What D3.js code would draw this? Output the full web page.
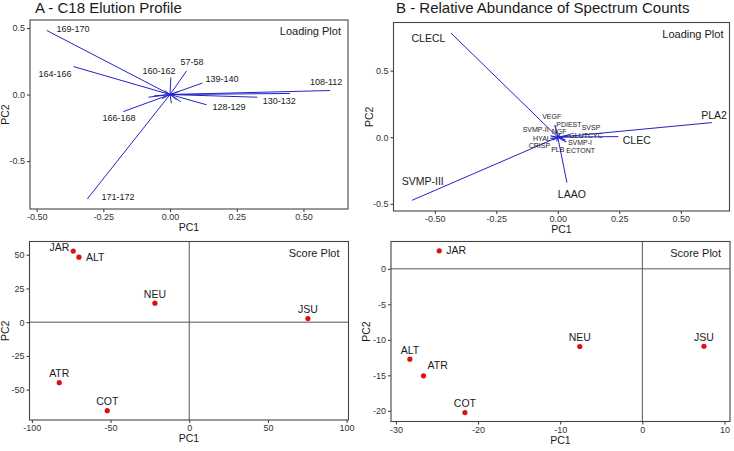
<!DOCTYPE html>
<html>
<head>
<meta charset="utf-8">
<script src="https://cdn.jsdelivr.net/npm/d3@7"></script>
<style>
  html, body { margin: 0; padding: 0; background: #fff; }
  svg { display: block; font-family: Arial, "Liberation Sans", Helvetica, sans-serif; }
</style>
</head>
<body>
<svg id="chart" width="734" height="451"></svg>
<script>
// ---------------- DATA ----------------
// Panel A – loading plot (C18 elution fractions)
const aLoadNames  = ["169-170", "164-166", "160-162", "57-58", "139-140", "108-112", "130-132", "128-129", "166-168", "171-172"];
const aLoadPC1    = [-0.462, -0.362, 0.003, 0.062, 0.121, 0.600, 0.327, 0.137, -0.175, -0.310];
const aLoadPC2    = [0.481, 0.210, 0.128, 0.178, 0.086, 0.030, -0.020, -0.077, -0.128, -0.784];
const aLabelPC1   = [-0.364, -0.431, -0.041, 0.082, 0.195, 0.585, 0.409, 0.221, -0.191, -0.195];
const aLabelPC2   = [0.494, 0.156, 0.178, 0.246, 0.118, 0.095, -0.047, -0.092, -0.175, -0.769];
// unlabeled minor loadings in panel A
const aMinorPC1   = [-0.081, -0.060, 0.040, 0.005, 0.025, -0.020, 0.030, 0.450, -0.030];
const aMinorPC2   = [-0.020, -0.010, -0.053, -0.065, -0.040, 0.030, 0.020, 0.008, -0.030];

// Panel A – score plot
const aScoreNames = ["JAR", "ALT", "NEU", "JSU", "ATR", "COT"];
const aScorePC1   = [-73.7, -70.1, -21.8, 75.4, -82.6, -52.1];
const aScorePC2   = [52.7, 48.2, 14.1, 2.7, -44.8, -65.6];
const aScoreLabel = ["upleft", "right", "above", "above", "above", "above"];

// Panel B – loading plot (protein families)
const bLoadNames  = ["CLECL", "PLA2", "CLEC", "SVMP-III", "LAAO"];
const bLoadPC1    = [-0.434, 0.626, 0.246, -0.593, 0.037];
const bLoadPC2    = [0.782, 0.110, 0.005, -0.474, -0.341];
const bLabelPC1   = [-0.526, 0.635, 0.321, -0.549, 0.057];
const bLabelPC2   = [0.744, 0.168, -0.020, -0.329, -0.426];
// minor (small-label) loadings in panel B
const bMinorNames = ["VEGF", "PDIEST", "SVSP", "SVMP-II", "NGF", "GLUTCYC", "HYAL", "CRISP", "PLB", "SVMP-I", "ECTONT"];
const bMinorPC1   = [-0.012, 0.010, 0.050, -0.030, 0.000, 0.020, -0.030, -0.020, -0.005, 0.030, 0.035];
const bMinorPC2   = [0.092, 0.030, 0.020, 0.010, 0.020, 0.000, -0.010, -0.020, -0.030, -0.020, -0.035];
const bMinorLabX  = [-0.025, 0.045, 0.135, -0.090, 0.005, 0.115, -0.065, -0.075, 0.000, 0.090, 0.093];
const bMinorLabY  = [0.155, 0.095, 0.075, 0.055, 0.040, 0.015, -0.010, -0.065, -0.090, -0.040, -0.100];

// Panel B – score plot
const bScoreNames = ["JAR", "ALT", "ATR", "COT", "NEU", "JSU"];
const bScorePC1   = [-24.73, -28.3, -26.64, -21.6, -7.62, 7.5];
const bScorePC2   = [2.54, -12.72, -15.07, -20.24, -10.94, -10.9];
const bScoreLabel = ["right", "above", "upright", "above", "above", "above"];

// Tick values
const aLoadXTicks  = [-0.5, -0.25, 0, 0.25, 0.5];
const aLoadYTicks  = [-0.5, 0, 0.5];
const aScoreXTicks = [-100, -50, 0, 50, 100];
const aScoreYTicks = [-50, -25, 0, 25, 50];
const bLoadXTicks  = [-0.5, -0.25, 0, 0.25, 0.5];
const bLoadYTicks  = [-0.5, 0, 0.5];
const bScoreXTicks = [-30, -20, -10, 0, 10];
const bScoreYTicks = [-20, -15, -10, -5, 0];

const titles = ["A - C18 Elution Profile", "B - Relative Abundance of Spectrum Counts"];

// ---------------- DRAWING ----------------
const svg = d3.select("#chart");
const ARROW = "#2323c8";
const POINT = "#e01010";
const TXT = "#1a1a1a";

function panel(box, xDom, yDom, xTicks, yTicks, xFmt, yFmt, cornerText, cornerPad) {
  const x = d3.scaleLinear().domain(xDom).range([box.x0, box.x1]);
  const y = d3.scaleLinear().domain(yDom).range([box.y1, box.y0]);
  const g = svg.append("g");
  const xa = g.append("g").attr("transform", `translate(0,${box.y1})`)
    .call(d3.axisBottom(x).tickValues(xTicks).tickFormat(xFmt).tickSize(3).tickPadding(2));
  const ya = g.append("g").attr("transform", `translate(${box.x0},0)`)
    .call(d3.axisLeft(y).tickValues(yTicks).tickFormat(yFmt).tickSize(3).tickPadding(2));
  [xa, ya].forEach(a => {
    a.select(".domain").remove();
    a.selectAll("line").attr("stroke", "#333");
    a.selectAll("text").attr("font-size", 9).attr("fill", "#333")
      .attr("font-family", "Arial, 'Liberation Sans', sans-serif");
  });
  g.append("text").attr("x", (box.x0 + box.x1) / 2).attr("y", box.y1 + 22)
    .attr("text-anchor", "middle").attr("font-size", 10.5).attr("fill", TXT).text("PC1");
  g.append("text").attr("transform", `translate(${box.x0 - 21},${(box.y0 + box.y1) / 2}) rotate(-90)`)
    .attr("text-anchor", "middle").attr("font-size", 10.5).attr("fill", TXT).text("PC2");
  g.append("text").attr("x", box.x1 - cornerPad).attr("y", box.y0 + 15)
    .attr("text-anchor", "end").attr("font-size", 11).attr("fill", TXT).text(cornerText);
  const plot = g.append("g");
  const frame = () => g.append("rect").attr("x", box.x0).attr("y", box.y0)
    .attr("width", box.x1 - box.x0).attr("height", box.y1 - box.y0)
    .attr("fill", "none").attr("stroke", "#444").attr("stroke-width", 1.1);
  return { x, y, plot, frame };
}

const f2 = d => d.toFixed(2);
const f1 = d => d.toFixed(1);
const f0 = d => String(d);

// ---- Panel A loading
{
  const p = panel({ x0: 30, x1: 348, y0: 20, y1: 209 }, [-0.525, 0.667], [-0.86, 0.56],
    aLoadXTicks, aLoadYTicks, f2, f1, "Loading Plot", 7);
  const minor = aMinorPC1.map((v, i) => ({ pc1: v, pc2: aMinorPC2[i] }));
  p.plot.selectAll(".mn").data(minor).join("line")
    .attr("x1", p.x(0)).attr("y1", p.y(0)).attr("x2", d => p.x(d.pc1)).attr("y2", d => p.y(d.pc2))
    .attr("stroke", ARROW).attr("stroke-width", 1);
  const main = aLoadNames.map((n, i) => ({ n, pc1: aLoadPC1[i], pc2: aLoadPC2[i], lx: aLabelPC1[i], ly: aLabelPC2[i] }));
  p.plot.selectAll(".mj").data(main).join("line")
    .attr("x1", p.x(0)).attr("y1", p.y(0)).attr("x2", d => p.x(d.pc1)).attr("y2", d => p.y(d.pc2))
    .attr("stroke", ARROW).attr("stroke-width", 1);
  p.plot.selectAll(".lb").data(main).join("text")
    .attr("x", d => p.x(d.lx)).attr("y", d => p.y(d.ly)).attr("dy", "0.35em")
    .attr("text-anchor", "middle").attr("font-size", 9).attr("fill", TXT).text(d => d.n);
  p.frame();
}

// ---- Score panel helper
function scorePanel(box, xDom, yDom, xT, yT, names, pc1, pc2, pos) {
  const p = panel(box, xDom, yDom, xT, yT, f0, f0, "Score Plot", 9);
  p.plot.append("line").attr("x1", box.x0).attr("x2", box.x1).attr("y1", p.y(0)).attr("y2", p.y(0))
    .attr("stroke", "#555").attr("stroke-width", 1);
  p.plot.append("line").attr("x1", p.x(0)).attr("x2", p.x(0)).attr("y1", box.y0).attr("y2", box.y1)
    .attr("stroke", "#555").attr("stroke-width", 1);
  const data = names.map((n, i) => ({ n, pc1: pc1[i], pc2: pc2[i], pos: pos[i] }));
  p.plot.selectAll("circle").data(data).join("circle")
    .attr("cx", d => p.x(d.pc1)).attr("cy", d => p.y(d.pc2)).attr("r", 2.6).attr("fill", POINT);
  const off = {
    above:   { dx: 0,   dy: -9,  a: "middle" },
    right:   { dx: 7,   dy: 0,   a: "start" },
    upleft:  { dx: -4,  dy: -4,  a: "end" },
    upright: { dx: 4,   dy: -11, a: "start" }
  };
  p.plot.selectAll(".sl").data(data).join("text")
    .attr("x", d => p.x(d.pc1) + off[d.pos].dx).attr("y", d => p.y(d.pc2) + off[d.pos].dy)
    .attr("dy", "0.35em").attr("text-anchor", d => off[d.pos].a)
    .attr("font-size", 10.5).attr("fill", TXT).text(d => d.n);
  p.frame();
}
scorePanel({ x0: 29.5, x1: 348.5, y0: 241.5, y1: 420 }, [-101.5, 101.2], [-72.5, 59.8],
  aScoreXTicks, aScoreYTicks, aScoreNames, aScorePC1, aScorePC2, aScoreLabel);

// ---- Panel B loading
{
  const p = panel({ x0: 393.5, x1: 729.5, y0: 22.5, y1: 211 }, [-0.668, 0.698], [-0.554, 0.862],
    bLoadXTicks, bLoadYTicks, f2, f1, "Loading Plot", 6);
  const minor = bMinorNames.map((n, i) => ({ n, pc1: bMinorPC1[i], pc2: bMinorPC2[i], lx: bMinorLabX[i], ly: bMinorLabY[i] }));
  const main = bLoadNames.map((n, i) => ({ n, pc1: bLoadPC1[i], pc2: bLoadPC2[i], lx: bLabelPC1[i], ly: bLabelPC2[i] }));
  p.plot.selectAll(".mn").data(minor).join("line")
    .attr("x1", p.x(0)).attr("y1", p.y(0)).attr("x2", d => p.x(d.pc1)).attr("y2", d => p.y(d.pc2))
    .attr("stroke", ARROW).attr("stroke-width", 1.2);
  p.plot.selectAll(".mj").data(main).join("line")
    .attr("x1", p.x(0)).attr("y1", p.y(0)).attr("x2", d => p.x(d.pc1)).attr("y2", d => p.y(d.pc2))
    .attr("stroke", ARROW).attr("stroke-width", 1);
  p.plot.selectAll(".ml").data(minor).join("text")
    .attr("x", d => p.x(d.lx)).attr("y", d => p.y(d.ly)).attr("dy", "0.35em")
    .attr("text-anchor", "middle").attr("font-size", 7).attr("fill", TXT).text(d => d.n);
  p.plot.selectAll(".lb").data(main).join("text")
    .attr("x", d => p.x(d.lx)).attr("y", d => p.y(d.ly)).attr("dy", "0.35em")
    .attr("text-anchor", "middle").attr("font-size", 10.5).attr("fill", TXT).text(d => d.n);
  p.frame();
}

// ---- Panel B score
scorePanel({ x0: 391, x1: 730, y0: 241.5, y1: 421.5 }, [-30.6, 10.67], [-21.5, 3.85],
  bScoreXTicks, bScoreYTicks, bScoreNames, bScorePC1, bScorePC2, bScoreLabel);

// ---- Titles
svg.append("text").attr("x", 35).attr("y", 13).attr("font-size", 15).attr("fill", TXT).text(titles[0]);
svg.append("text").attr("x", 396).attr("y", 13).attr("font-size", 15).attr("fill", TXT).text(titles[1]);
</script>
</body>
</html>
